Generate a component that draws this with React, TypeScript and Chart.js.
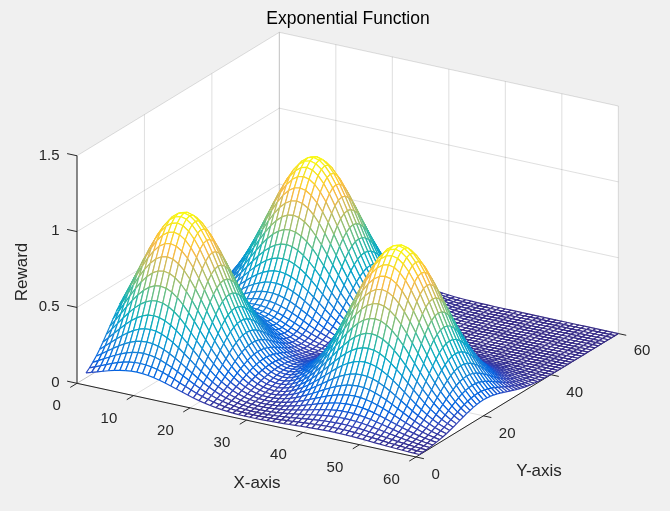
import React, { useEffect, useRef } from "react";
import { Chart, registerables } from "chart.js";

Chart.register(...registerables);

// axis ticks
const xTicks = [0, 10, 20, 30, 40, 50, 60];
const yTicks = [0, 20, 40, 60];
const zTicks = [0, 0.5, 1, 1.5];
const zTickLabels = ["0", "0.5", "1", "1.5"];

// mesh sample positions
const gridX = Array.from({ length: 60 }, (_, i) => i + 1);
const gridY = Array.from({ length: 60 }, (_, i) => i + 1);

// the three exponential bumps
const peakX = [10, 15, 45];
const peakY = [15, 45, 20];
const peakHeight = [1, 1, 1];
const peakSpread = [100, 100, 100]; // 2*sigma^2

const TITLE = "Exponential Function";
const X_LABEL = "X-axis";
const Y_LABEL = "Y-axis";
const Z_LABEL = "Reward";

// view: where one unit of x, y, z moves on screen
const ORIGIN = [77, 383.3];
const X_STEP = [5.65, 1.228];
const Y_STEP = [3.372, -2.057];
const Z_STEP = [0, -151.7];

const project = (x: number, y: number, z: number) => ({
  x: ORIGIN[0] + x * X_STEP[0] + y * Y_STEP[0] + z * Z_STEP[0],
  y: ORIGIN[1] + x * X_STEP[1] + y * Y_STEP[1] + z * Z_STEP[1],
});

const reward = (x: number, y: number) =>
  peakX.reduce(
    (s, px, k) =>
      s + peakHeight[k] * Math.exp(-((x - px) ** 2 + (y - peakY[k]) ** 2) / peakSpread[k]),
    0
  );

// parula
const PARULA = [
  [0.2081, 0.1663, 0.5292], [0.1959, 0.2645, 0.7279], [0.0117, 0.3875, 0.882],
  [0.0498, 0.4586, 0.8641], [0.0793, 0.52, 0.8312], [0.0343, 0.5966, 0.8199],
  [0.0228, 0.6535, 0.7768], [0.0843, 0.6928, 0.7062], [0.2178, 0.725, 0.6193],
  [0.3953, 0.7459, 0.5244], [0.5709, 0.7485, 0.4494], [0.7184, 0.7411, 0.3905],
  [0.8507, 0.7299, 0.336], [0.9739, 0.7314, 0.2666], [0.988, 0.8066, 0.1794],
  [0.9589, 0.8949, 0.1132], [0.9763, 0.9831, 0.0538],
];
const parula = (t: number) => {
  const v = Math.min(1, Math.max(0, t)) * (PARULA.length - 1);
  const i = Math.min(PARULA.length - 2, Math.floor(v));
  const f = v - i;
  const c = PARULA[i].map((a, k) => Math.round(255 * (a + (PARULA[i + 1][k] - a) * f)));
  return `rgb(${c[0]},${c[1]},${c[2]})`;
};

const GRID = "rgba(38,38,38,0.15)";
const AXIS = "rgb(38,38,38)";
const FONT = '"Liberation Sans", Arial, Helvetica, sans-serif';

type P3 = [number, number, number];
const line = (a: P3, b: P3, color: string) => ({
  data: [project(...a), project(...b)],
  showLine: true,
  pointRadius: 0,
  borderColor: color,
  borderWidth: 1,
  clip: false as const,
});

const xMax = xTicks[xTicks.length - 1];
const yMax = yTicks[yTicks.length - 1];
const zMax = zTicks[zTicks.length - 1];

const buildLines = () => {
  const ds: any[] = [];
  // left wall (x = 0)
  yTicks.forEach((y) => ds.push(line([0, y, 0], [0, y, zMax], GRID)));
  zTicks.forEach((z) => ds.push(line([0, 0, z], [0, yMax, z], GRID)));
  // back wall (y = max)
  xTicks.forEach((x) => ds.push(line([x, yMax, 0], [x, yMax, zMax], GRID)));
  zTicks.forEach((z) => ds.push(line([0, yMax, z], [xMax, yMax, z], GRID)));
  // floor
  xTicks.forEach((x) => ds.push(line([x, 0, 0], [x, yMax, 0], GRID)));
  yTicks.forEach((y) => ds.push(line([0, y, 0], [xMax, y, 0], GRID)));
  // axes
  ds.push(line([0, 0, 0], [xMax, 0, 0], AXIS));
  ds.push(line([xMax, 0, 0], [xMax, yMax, 0], AXIS));
  ds.push(line([0, 0, 0], [0, 0, zMax], AXIS));
  xTicks.forEach((x) => ds.push(line([x, 0, 0], [x, -2, 0], AXIS)));
  yTicks.forEach((y) => ds.push(line([xMax, y, 0], [xMax + 1.4, y, 0], AXIS)));
  zTicks.forEach((z) => ds.push(line([0, 0, z], [-1.75, 0, z], AXIS)));
  return ds;
};

const px = (chart: Chart, p: { x: number; y: number }) => [
  chart.scales.x.getPixelForValue(p.x),
  chart.scales.y.getPixelForValue(p.y),
];

const backdropPlugin = {
  id: "backdrop",
  beforeDatasetsDraw(chart: Chart) {
    const corners: P3[] = [
      [0, 0, 0], [0, 0, zMax], [0, yMax, zMax], [xMax, yMax, zMax], [xMax, yMax, 0], [xMax, 0, 0],
    ];
    const ctx = chart.ctx;
    ctx.save();
    ctx.beginPath();
    corners.forEach((c, i) => {
      const [a, b] = px(chart, project(...c));
      if (i === 0) ctx.moveTo(a, b);
      else ctx.lineTo(a, b);
    });
    ctx.closePath();
    ctx.fillStyle = "#ffffff";
    ctx.fill();
    ctx.restore();
  },
};

const surfacePlugin = {
  id: "surface",
  afterDatasetsDraw(chart: Chart) {
    const Z = gridY.map((y) => gridX.map((x) => reward(x, y)));
    const all = Z.flat();
    const lo = Math.min(...all);
    const hi = Math.max(...all);
    const pts = gridY.map((y, j) => gridX.map((x, i) => px(chart, project(x, y, Z[j][i]))));
    const quads: { i: number; j: number; d: number }[] = [];
    for (let j = 0; j < gridY.length - 1; j++)
      for (let i = 0; i < gridX.length - 1; i++)
        quads.push({
          i,
          j,
          d: X_STEP[1] * (gridX[i] + gridX[i + 1]) + Y_STEP[1] * (gridY[j] + gridY[j + 1]),
        });
    quads.sort((a, b) => a.d - b.d);
    const ctx = chart.ctx;
    ctx.save();
    ctx.lineWidth = 1.2;
    const edge = (i1: number, j1: number, i2: number, j2: number) => {
      ctx.beginPath();
      ctx.moveTo(pts[j1][i1][0], pts[j1][i1][1]);
      ctx.lineTo(pts[j2][i2][0], pts[j2][i2][1]);
      ctx.strokeStyle = parula(((Z[j1][i1] + Z[j2][i2]) / 2 - lo) / (hi - lo));
      ctx.stroke();
    };
    quads.forEach(({ i, j }) => {
      const c = [pts[j][i], pts[j][i + 1], pts[j + 1][i + 1], pts[j + 1][i]];
      ctx.beginPath();
      ctx.moveTo(c[0][0], c[0][1]);
      c.slice(1).forEach((p) => ctx.lineTo(p[0], p[1]));
      ctx.closePath();
      ctx.fillStyle = "#ffffff";
      ctx.fill();
      edge(i, j, i + 1, j);
      edge(i + 1, j, i + 1, j + 1);
      edge(i + 1, j + 1, i, j + 1);
      edge(i, j + 1, i, j);
    });
    ctx.restore();
  },
};

const textPlugin = {
  id: "texts",
  afterDraw(chart: Chart) {
    const ctx = chart.ctx;
    ctx.save();
    ctx.fillStyle = AXIS;
    ctx.textBaseline = "middle";
    ctx.font = `15px ${FONT}`;
    ctx.textAlign = "right";
    xTicks.forEach((x) => {
      const [a, b] = px(chart, project(x, -2, 0));
      ctx.fillText(String(x), a - 9.5, b + 18.8);
    });
    ctx.textAlign = "left";
    yTicks.forEach((y) => {
      const [a, b] = px(chart, project(xMax + 1.4, y, 0));
      ctx.fillText(String(y), a + 7.5, b + 16);
    });
    ctx.textAlign = "right";
    zTicks.forEach((z, k) => {
      const [a, b] = px(chart, project(-1.75, 0, z));
      ctx.fillText(zTickLabels[k], a - 7.5, b + 1.8);
    });
    ctx.font = `17px ${FONT}`;
    ctx.textAlign = "center";
    ctx.fillText(X_LABEL, 257, 483.5);
    ctx.fillText(Y_LABEL, 539, 471.5);
    ctx.save();
    ctx.translate(22, 272);
    ctx.rotate(-Math.PI / 2);
    ctx.fillText(Z_LABEL, 0, 0);
    ctx.restore();
    ctx.fillStyle = "#000000";
    ctx.font = `17.5px ${FONT}`;
    ctx.fillText(TITLE, 348, 19);
    ctx.restore();
  },
};

export default function App() {
  const canvasRef = useRef<HTMLCanvasElement>(null);

  useEffect(() => {
    document.body.style.margin = "0";
    if (!canvasRef.current) return;
    const chart = new Chart(canvasRef.current, {
      type: "scatter",
      data: { datasets: buildLines() },
      options: {
        animation: false,
        responsive: true,
        maintainAspectRatio: false,
        events: [],
        layout: { padding: 0 },
        plugins: { legend: { display: false }, tooltip: { enabled: false }, title: { display: false } },
        scales: {
          x: { type: "linear", display: false, min: 0, max: 670 },
          y: { type: "linear", display: false, min: 0, max: 511, reverse: true },
        },
      },
      plugins: [backdropPlugin, surfacePlugin, textPlugin],
    });
    return () => chart.destroy();
  }, []);

  return (
    <div style={{ width: 670, height: 511, background: "#f0f0f0", position: "relative" }}>
      <canvas ref={canvasRef} />
    </div>
  );
}
